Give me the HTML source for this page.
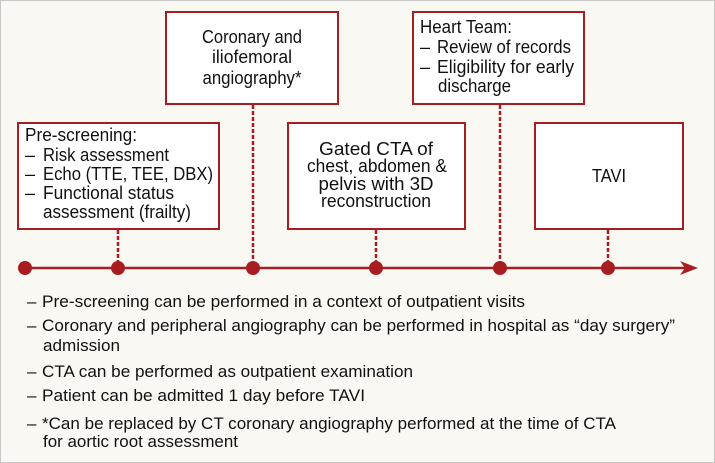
<!DOCTYPE html>
<html><head><meta charset="utf-8"><style>
html,body{margin:0;padding:0;background:#fff}
svg{display:block}
text{font-family:"Liberation Sans",sans-serif;fill:#111}
</style></head><body>
<svg width="715" height="463" viewBox="0 0 715 463" xmlns="http://www.w3.org/2000/svg">
<rect x="0.5" y="0.5" width="714" height="462" fill="#f9f8f3" stroke="#c8c8c8"/>
<g stroke="#a81d22" stroke-width="2" fill="#fff">
<rect x="18" y="123" width="201" height="106"/>
<rect x="166" y="12" width="172" height="92"/>
<rect x="288" y="123" width="177" height="106"/>
<rect x="413" y="12" width="171" height="92"/>
<rect x="535" y="123" width="148" height="106"/>
</g>
<g stroke="#a81d22" stroke-width="2.5" stroke-dasharray="4,2">
<line x1="118" y1="230" x2="118" y2="266"/>
<line x1="253" y1="105" x2="253" y2="266"/>
<line x1="376" y1="230" x2="376" y2="266"/>
<line x1="500" y1="105" x2="500" y2="266"/>
<line x1="608" y1="230" x2="608" y2="266"/>
</g>
<line x1="25" y1="268" x2="692" y2="268" stroke="#a81d22" stroke-width="2.5"/>
<path d="M680 261 L698 268 L680 275 L685 268 Z" fill="#a81d22"/>
<g fill="#a81d22">
<circle cx="25" cy="268" r="7"/><circle cx="118" cy="268" r="7"/><circle cx="253" cy="268" r="7"/>
<circle cx="376" cy="268" r="7"/><circle cx="500" cy="268" r="7"/><circle cx="608" cy="268" r="7"/>
</g>
<g font-size="18">
<text x="25" y="141" textLength="112" lengthAdjust="spacingAndGlyphs">Pre-screening:</text>
<text x="25" y="161">–</text><text x="43" y="161" textLength="126" lengthAdjust="spacingAndGlyphs">Risk assessment</text>
<text x="25" y="180">–</text><text x="43" y="180" textLength="170" lengthAdjust="spacingAndGlyphs">Echo (TTE, TEE, DBX)</text>
<text x="25" y="199">–</text><text x="43" y="199" textLength="131" lengthAdjust="spacingAndGlyphs">Functional status</text>
<text x="43" y="218" textLength="148" lengthAdjust="spacingAndGlyphs">assessment (frailty)</text>

<text x="252" y="43" text-anchor="middle" textLength="100" lengthAdjust="spacingAndGlyphs">Coronary and</text>
<text x="252" y="63" text-anchor="middle" textLength="80" lengthAdjust="spacingAndGlyphs">iliofemoral</text>
<text x="252" y="84" text-anchor="middle" textLength="99" lengthAdjust="spacingAndGlyphs">angiography*</text>

<text x="376" y="155" text-anchor="middle" textLength="114" lengthAdjust="spacingAndGlyphs">Gated CTA of</text>
<text x="377" y="172" text-anchor="middle" textLength="140" lengthAdjust="spacingAndGlyphs">chest, abdomen &amp;</text>
<text x="376" y="190" text-anchor="middle" textLength="115" lengthAdjust="spacingAndGlyphs">pelvis with 3D</text>
<text x="376" y="207" text-anchor="middle" textLength="110" lengthAdjust="spacingAndGlyphs">reconstruction</text>

<text x="420" y="33" textLength="92" lengthAdjust="spacingAndGlyphs">Heart Team:</text>
<text x="420" y="53">–</text><text x="437" y="53" textLength="134" lengthAdjust="spacingAndGlyphs">Review of records</text>
<text x="420" y="73">–</text><text x="437" y="73" textLength="137" lengthAdjust="spacingAndGlyphs">Eligibility for early</text>
<text x="438" y="92" textLength="73" lengthAdjust="spacingAndGlyphs">discharge</text>

<text x="609" y="182" text-anchor="middle" textLength="34" lengthAdjust="spacingAndGlyphs">TAVI</text>
</g>
<g font-size="17">
<text x="27" y="307">–</text><text x="42" y="307" textLength="483" lengthAdjust="spacingAndGlyphs">Pre-screening can be performed in a context of outpatient visits</text>
<text x="27" y="331">–</text><text x="42" y="331" textLength="633" lengthAdjust="spacingAndGlyphs">Coronary and peripheral angiography can be performed in hospital as “day surgery”</text>
<text x="43" y="351" textLength="77" lengthAdjust="spacingAndGlyphs">admission</text>
<text x="27" y="377">–</text><text x="42" y="377" textLength="371" lengthAdjust="spacingAndGlyphs">CTA can be performed as outpatient examination</text>
<text x="27" y="401">–</text><text x="42" y="401" textLength="323" lengthAdjust="spacingAndGlyphs">Patient can be admitted 1 day before TAVI</text>
<text x="27" y="429">–</text><text x="42" y="429" textLength="574" lengthAdjust="spacingAndGlyphs">*Can be replaced by CT coronary angiography performed at the time of CTA</text>
<text x="43" y="447" textLength="195" lengthAdjust="spacingAndGlyphs">for aortic root assessment</text>
</g>
</svg>
</body></html>
